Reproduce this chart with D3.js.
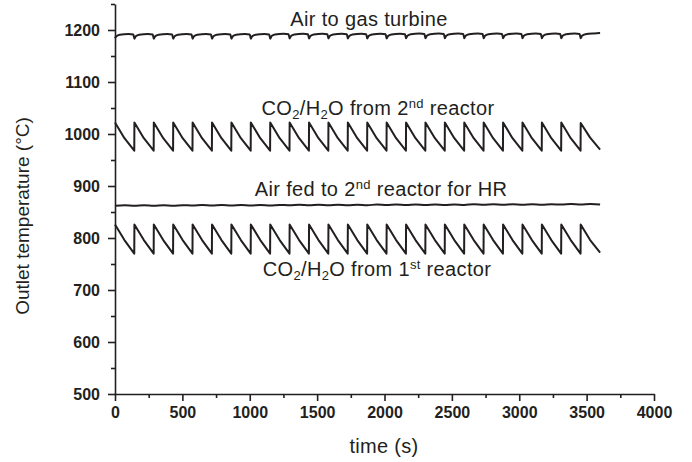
<!DOCTYPE html>
<html>
<head>
<meta charset="utf-8">
<script src="https://cdn.jsdelivr.net/npm/d3@7"></script>
<style>
body { margin: 0; background: #fff; }
svg { font-family: "Liberation Sans", Arial, sans-serif; }
</style>
</head>
<body>
<script>
// time points shared by the two sawtooth series (jump at each 144 s)
var sawTime = [0,70,143, 144,214,287, 288,358,431, 432,502,575, 576,646,719,
	720,790,863, 864,934,1007, 1008,1078,1151, 1152,1222,1295, 1296,1366,1439,
	1440,1510,1583, 1584,1654,1727, 1728,1798,1871, 1872,1942,2015, 2016,2086,2159,
	2160,2230,2303, 2304,2374,2447, 2448,2518,2591, 2592,2662,2735, 2736,2806,2879,
	2880,2950,3023, 3024,3094,3167, 3168,3238,3311, 3312,3382,3455, 3456,3526,3600];

var co2Second = [1022,992,968, 1022,992,968, 1022,992,968, 1022,992,968, 1022,992,968,
	1022,992,968, 1022,992,968, 1022,992,968, 1022,992,968, 1022,992,968,
	1022,992,968, 1022,992,968, 1022,992,968, 1022,992,968, 1022,992,968,
	1022,992,968, 1022,992,968, 1022,992,968, 1022,992,968, 1022,992,968,
	1022,992,968, 1022,992,968, 1022,992,968, 1022,992,968, 1021,993,970];

var co2First = [826,796,770, 826,796,770, 826,796,770, 826,796,770, 826,796,770,
	826,796,770, 826,796,770, 826,796,770, 826,796,770, 826,796,770,
	826,796,770, 826,796,770, 826,796,770, 826,796,770, 826,796,770,
	826,796,770, 826,796,770, 826,796,770, 826,796,770, 826,796,770,
	826,796,770, 826,796,770, 826,796,770, 826,796,770, 826,796,772];

// air to gas turbine: small dip at every switch
var turbTime = [0,10,35,100,136, 144,154,179,244,280, 288,298,323,388,424,
	432,442,467,532,568, 576,586,611,676,712, 720,730,755,820,856,
	864,874,899,964,1000, 1008,1018,1043,1108,1144, 1152,1162,1187,1252,1288,
	1296,1306,1331,1396,1432, 1440,1450,1475,1540,1576, 1584,1594,1619,1684,1720,
	1728,1738,1763,1828,1864, 1872,1882,1907,1972,2008, 2016,2026,2051,2116,2152,
	2160,2170,2195,2260,2296, 2304,2314,2339,2404,2440, 2448,2458,2483,2548,2584,
	2592,2602,2627,2692,2728, 2736,2746,2771,2836,2872, 2880,2890,2915,2980,3016,
	3024,3034,3059,3124,3160, 3168,3178,3203,3268,3304, 3312,3322,3347,3412,3448,
	3456,3466,3491,3556,3600];

var turbine = [1184,1188,1191,1192.5,1191.5, 1183,1188,1191,1192.5,1191.5, 1183,1188,1191,1192.5,1191.5,
	1183,1188,1191,1192.5,1191.5, 1183,1188,1191,1192.5,1191.5, 1183,1188,1191,1192.5,1191.5,
	1183,1188,1191,1192.5,1191.5, 1183,1188,1191,1192.5,1191.5, 1183,1188.5,1191.5,1193,1192,
	1183.5,1188.5,1191.5,1193,1192, 1183.5,1188.5,1191.5,1193,1192, 1183.5,1188.5,1191.5,1193,1192,
	1183.5,1188.5,1191.5,1193,1192, 1183.5,1188.5,1191.5,1193,1192, 1183.5,1188.5,1191.5,1193,1192,
	1184,1189,1192,1193.5,1192.5, 1184,1189,1192,1193.5,1192.5, 1184,1189,1192,1193.5,1192.5,
	1184,1189,1192,1193.5,1192.5, 1184,1189,1192,1193.5,1192.5, 1184,1189,1192,1193.5,1192.5,
	1184,1189,1192,1193.5,1192.5, 1184,1189,1192,1193.5,1192.5, 1184,1189,1192,1193.5,1192.5,
	1184,1189,1192,1193.5,1194];

// air fed to 2nd reactor for heat removal
var hrTime = [0,72,144,216,288,360,432,504,576,648,720,792,864,936,1008,1080,1152,1224,
	1296,1368,1440,1512,1584,1656,1728,1800,1872,1944,2016,2088,2160,2232,2304,2376,
	2448,2520,2592,2664,2736,2808,2880,2952,3024,3096,3168,3240,3312,3384,3456,3528,3600];
var hrAir = [861.8,862.8, 862.0,863.0, 862.1,863.1, 862.2,863.2, 862.3,863.3, 862.4,863.4,
	862.5,863.5, 862.6,863.6, 862.7,863.7, 862.8,863.8, 862.9,863.9, 863.0,864.0,
	863.1,864.1, 863.2,864.2, 863.3,864.3, 863.4,864.4, 863.5,864.5, 863.6,864.6,
	863.7,864.7, 863.8,864.8, 863.9,864.9, 864.0,865.0, 864.1,865.1, 864.2,865.2,
	864.3,865.3, 864.6];

var xTicks = [0,500,1000,1500,2000,2500,3000,3500,4000];
var yTicks = [500,600,700,800,900,1000,1100,1200];

var svgWidth = 692, svgHeight = 462;
var ink = "#231f20";

var svg = d3.select("body").append("svg")
	.attr("width", svgWidth)
	.attr("height", svgHeight);

var x = d3.scaleLinear().domain([0, 4000]).range([115, 654]);
var y = d3.scaleLinear().domain([500, 1250]).range([394, 4]);

// x axis
var xAxis = svg.append("g").attr("transform", "translate(0,394)");
xAxis.append("g")
	.call(d3.axisBottom(x).tickValues(d3.range(250, 4000, 500)).tickSize(4).tickFormat(""))
	.call(g => g.select(".domain").remove());
xAxis.append("g")
	.call(d3.axisBottom(x).tickValues(xTicks).tickSize(7).tickPadding(6).tickSizeOuter(0).tickFormat(d3.format("d")))
	.call(g => g.selectAll("text").attr("font-size", 16).attr("font-weight", "bold").attr("fill", ink));

// y axis
var yAxis = svg.append("g").attr("transform", "translate(115,0)");
yAxis.append("g")
	.call(d3.axisLeft(y).tickValues(d3.range(550, 1300, 100)).tickSize(4).tickFormat(""))
	.call(g => g.select(".domain").remove());
yAxis.append("g")
	.call(d3.axisLeft(y).tickValues(yTicks).tickSize(7).tickPadding(8).tickSizeOuter(0).tickFormat(d3.format("d")))
	.call(g => g.selectAll("text").attr("font-size", 16).attr("font-weight", "bold").attr("fill", ink));

svg.selectAll(".domain, .tick line").attr("stroke", ink).attr("stroke-width", 1.6);
svg.selectAll("g text").attr("font-family", "Liberation Sans, Arial, sans-serif");

// series
function drawSeries(times, vals, curve) {
	var pts = times.map(function(t, i) { return [t, vals[i]]; });
	svg.append("path")
		.datum(pts)
		.attr("fill", "none")
		.attr("stroke", ink)
		.attr("stroke-width", 2)
		.attr("stroke-linejoin", "round")
		.attr("d", d3.line().x(d => x(d[0])).y(d => y(d[1])).curve(curve));
}
drawSeries(turbTime, turbine, d3.curveMonotoneX);
drawSeries(sawTime, co2Second, d3.curveLinear);
drawSeries(hrTime, hrAir, d3.curveMonotoneX);
drawSeries(sawTime, co2First, d3.curveLinear);

// labels
function label(px, py, parts) {
	var t = svg.append("text")
		.attr("x", px).attr("y", py)
		.attr("text-anchor", "middle")
		.attr("font-size", 20)
		.attr("letter-spacing", 0.35)
		.attr("fill", ink);
	var shift = 0;
	parts.forEach(function(p) {
		var target = p.sub ? 4 : (p.sup ? -7 : 0);
		t.append("tspan")
			.attr("dy", target - shift)
			.attr("font-size", (p.sub || p.sup) ? 13 : 20)
			.text(p.s);
		shift = target;
	});
}
label(369, 26, [{s: "Air to gas turbine"}]);
label(378, 115, [{s: "CO"}, {s: "2", sub: true}, {s: "/H"}, {s: "2", sub: true}, {s: "O from 2"}, {s: "nd", sup: true}, {s: " reactor"}]);
label(381, 196, [{s: "Air fed to 2"}, {s: "nd", sup: true}, {s: " reactor for HR"}]);
label(377, 276, [{s: "CO"}, {s: "2", sub: true}, {s: "/H"}, {s: "2", sub: true}, {s: "O from 1"}, {s: "st", sup: true}, {s: " reactor"}]);

svg.append("text")
	.attr("x", 384).attr("y", 453)
	.attr("text-anchor", "middle")
	.attr("font-size", 20)
	.attr("letter-spacing", 0.3)
	.attr("fill", ink)
	.text("time (s)");

svg.append("text")
	.attr("transform", "translate(29,216) rotate(-90)")
	.attr("text-anchor", "middle")
	.attr("font-size", 19)
	.attr("fill", ink)
	.text("Outlet temperature (°C)");
</script>
</body>
</html>
